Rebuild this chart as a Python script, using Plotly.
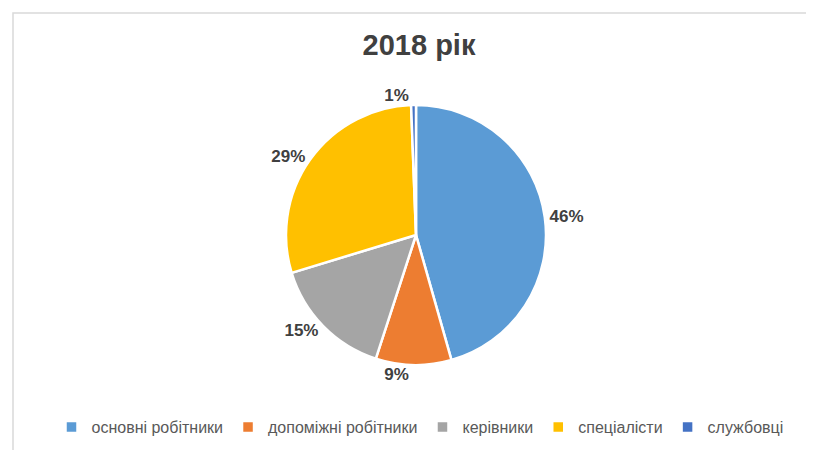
import plotly.graph_objects as go

categories = ["основні робітники", "допоміжні робітники", "керівники", "спеціалісти", "службовці"]
values = [45.6, 9.4, 15.3, 29.1, 0.6]
colors = ["#5B9BD5", "#ED7D31", "#A5A5A5", "#FFC000", "#4472C4"]
title_text = "2018 рік"

W, H = 814, 450
cx, cy, r = 408, 227, 130

fig = go.Figure(go.Pie(
    labels=categories,
    values=values,
    sort=False,
    direction="clockwise",
    rotation=0,
    marker=dict(colors=colors, line=dict(color="white", width=2.5)),
    textposition="outside",
    texttemplate="%{percent:.0%}",
    textfont=dict(family="Liberation Sans", size=17, color="#404040", weight="bold"),
    domain=dict(x=[(cx - r) / W, (cx + r) / W], y=[1 - (cy + r) / H, 1 - (cy - r) / H]),
    hoverinfo="label+percent",
))

fig.update_layout(
    width=W, height=H,
    margin=dict(l=0, r=0, t=0, b=0),
    paper_bgcolor="white",
    title=dict(text=title_text, x=411 / W, xanchor="center", y=1 - 37 / H, yanchor="middle",
               font=dict(family="Liberation Sans", size=29, color="#404040", weight="bold")),
    legend=dict(orientation="h", x=412 / W, xanchor="center", y=1 - 419 / H, yanchor="middle",
                font=dict(family="Liberation Sans", size=16, color="#595959"),
                itemwidth=30, traceorder="normal"),
    shapes=[dict(type="rect", xref="paper", yref="paper", x0=5 / W, x1=1.2, y0=-0.2, y1=1 - 5 / H,
                 line=dict(color="#D9D9D9", width=1.5), fillcolor="rgba(0,0,0,0)", layer="below")],
)

fig.write_html("out.html")
